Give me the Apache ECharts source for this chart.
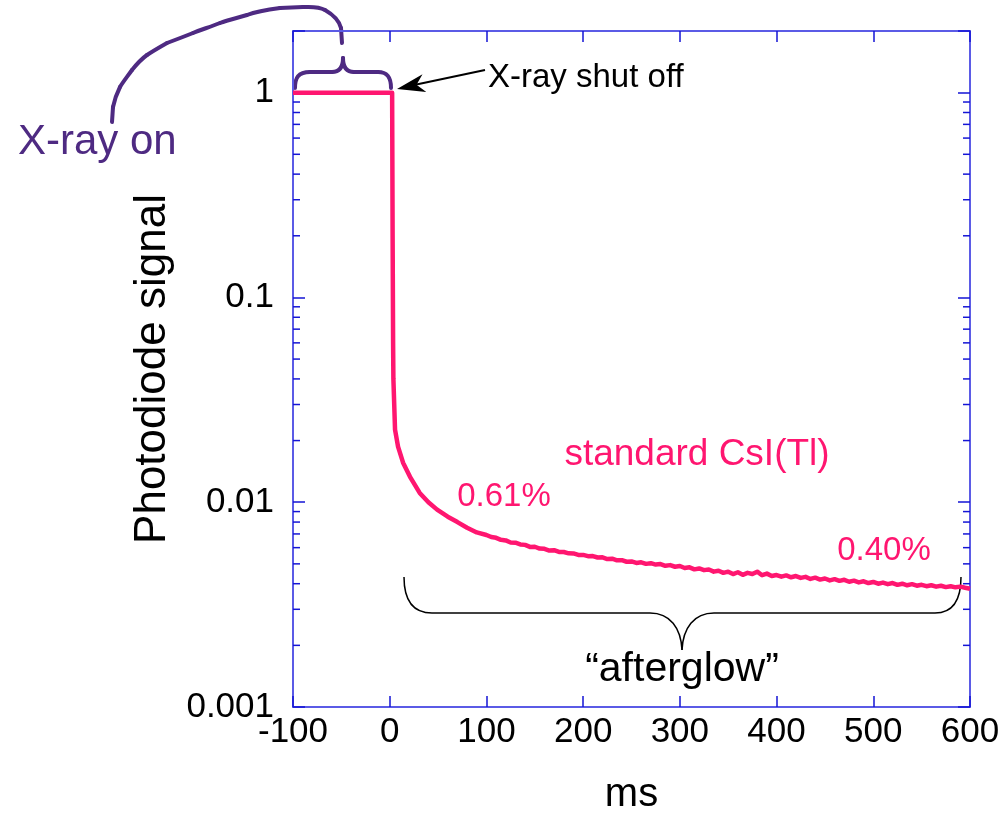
<!DOCTYPE html>
<html>
<head>
<meta charset="utf-8">
<script src="https://cdn.jsdelivr.net/npm/echarts@6/dist/echarts.min.js"></script>
<style>html,body{margin:0;padding:0;background:#fff}#c{width:1005px;height:820px}</style>
</head>
<body>
<div id="c"></div>
<script>
// ---- data ----
const timeMs = [-100, 2.5, 3.0, 3.5, 3.8, 5.5, 8.6, 13.8, 21, 31, 40, 49, 60, 70, 80, 90,
  100,105,110,115,120,125,130,135,140,145,150,155,160,165,170,175,180,185,190,195,
  200,205,210,215,220,225,230,235,240,245,250,255,260,265,270,275,280,285,290,295,
  300,305,310,315,320,325,330,335,340,345,350,355,360,365,370,375,380,385,390,395,
  400,405,410,415,420,425,430,435,440,445,450,455,460,465,470,475,480,485,490,495,
  500,505,510,515,520,525,530,535,540,545,550,555,560,565,570,575,580,585,590,595,600];
const signal = [1.0, 1.0, 0.2, 0.06, 0.04, 0.0226, 0.0187, 0.0156, 0.0133, 0.0111, 0.0100, 0.0092, 0.0085, 0.0080, 0.0075, 0.00712,
  0.00692,0.00676,0.00670,0.00655,0.00651,0.00636,0.00634,0.00622,0.00619,0.00605,0.00606,0.00594,0.00592,0.00581,0.00583,0.00572,0.00571,0.00563,0.00562,0.00553,
  0.00553,0.00545,0.00546,0.00537,0.00538,0.00528,0.00530,0.00520,0.00521,0.00512,0.00514,0.00505,0.00509,0.00500,0.00504,0.00496,0.00499,0.00489,0.00493,0.00484,
  0.00488,0.00477,0.00481,0.00470,0.00475,0.00466,0.00469,0.00458,0.00463,0.00452,0.00458,0.00446,0.00455,0.00442,0.00452,0.00446,0.00458,0.00440,0.00448,0.00436,
  0.00441,0.00433,0.00439,0.00430,0.00436,0.00427,0.00432,0.00422,0.00428,0.00419,0.00424,0.00415,0.00421,0.00413,0.00418,0.00409,0.00414,0.00406,0.00411,0.00403,
  0.00408,0.00400,0.00405,0.00398,0.00403,0.00395,0.00400,0.00393,0.00398,0.00391,0.00395,0.00389,0.00393,0.00387,0.00391,0.00385,0.00389,0.00384,0.00387,0.00382,0.00378];
const xTickLabels = ['-100','0','100','200','300','400','500','600'];
const yTickLabels = ['0.001','0.01','0.1','1'];
const minorTickValues = [0.002,0.003,0.004,0.005,0.006,0.007,0.008,0.009,
  0.02,0.03,0.04,0.05,0.06,0.07,0.08,0.09,
  0.2,0.3,0.4,0.5,0.6,0.7,0.8,0.9];
const X_MIN = -100, X_MAX = 600, Y_MIN = 0.001, Y_MAX = 2;

// ---- style ----
const FONT = "'Liberation Sans', Arial, sans-serif";
const PINK = '#ff1670';
const PURPLE = '#4e2a82';
const AXIS_LINE = '#5b5be6';
const TICK = '#1515d5';

// simple absolute M/L/C path -> graphic group of line / bezierCurve elements
function pathGroup(d, style) {
  const tok = d.match(/[MLC]|-?\d*\.?\d+/g);
  const children = [];
  let i = 0, cmd = null, cx = 0, cy = 0;
  while (i < tok.length) {
    if (/[MLC]/.test(tok[i])) { cmd = tok[i]; i++; }
    if (cmd === 'M') { cx = +tok[i]; cy = +tok[i + 1]; i += 2; cmd = 'L'; }
    else if (cmd === 'L') {
      const x = +tok[i], y = +tok[i + 1]; i += 2;
      children.push({type: 'line', shape: {x1: cx, y1: cy, x2: x, y2: y}, style: style});
      cx = x; cy = y;
    } else if (cmd === 'C') {
      const a = tok.slice(i, i + 6).map(Number); i += 6;
      children.push({type: 'bezierCurve', shape: {x1: cx, y1: cy, cpx1: a[0], cpy1: a[1], cpx2: a[2], cpy2: a[3], x2: a[4], y2: a[5]}, style: style});
      cx = a[4]; cy = a[5];
    } else { i++; }
  }
  return {type: 'group', silent: true, z: 10, children: children};
}

const chart = echarts.init(document.getElementById('c'), null, {renderer: 'canvas'});

function yLabel(v) {
  const s = yTickLabels.find(t => Math.abs(parseFloat(t) - v) / v < 1e-6);
  return s || '';
}

const xCommon = {
  type: 'value', min: X_MIN, max: X_MAX, interval: 100,
  axisLine: {show: true, onZero: false, lineStyle: {color: AXIS_LINE, width: 2}},
  axisTick: {show: true, inside: true, length: 11, lineStyle: {color: TICK, width: 1.5}},
  splitLine: {show: false}
};
const yCommon = {
  type: 'log', logBase: 10, min: Y_MIN, max: Y_MAX,
  axisLine: {show: true, onZero: false, lineStyle: {color: AXIS_LINE, width: 2}},
  axisTick: {show: true, inside: true, length: 12, lineStyle: {color: TICK, width: 1.5}},
  splitLine: {show: false}
};

const purpleStroke = {fill: null, stroke: PURPLE, lineWidth: 4, lineCap: 'round'};
const blackThin = {fill: null, stroke: '#000', lineWidth: 1.5};

const option = {
  animation: false,
  backgroundColor: '#fff',
  textStyle: {fontFamily: FONT},
  grid: {left: 293, right: 35, top: 31, bottom: 112, containLabel: false},
  xAxis: [
    Object.assign({}, xCommon, {
      position: 'bottom',
      axisLabel: {show: true, color: '#000', fontSize: 35, fontFamily: FONT, margin: 8,
        formatter: v => xTickLabels.includes(String(v)) ? String(v) : ''},
      name: 'ms', nameLocation: 'middle', nameGap: 68,
      nameTextStyle: {color: '#000', fontSize: 40, fontFamily: FONT}
    }),
    Object.assign({}, xCommon, {position: 'top', axisLabel: {show: false}})
  ],
  yAxis: [
    Object.assign({}, yCommon, {
      position: 'left',
      axisLabel: {show: true, color: '#000', fontSize: 35, fontFamily: FONT, margin: 19, formatter: yLabel},
      name: 'Photodiode signal', nameLocation: 'middle', nameGap: 118,
      nameTextStyle: {color: '#000', fontSize: 44, fontFamily: FONT}
    }),
    Object.assign({}, yCommon, {position: 'right', axisLabel: {show: false}})
  ],
  series: [
    {
      type: 'custom',
      xAxisIndex: 0, yAxisIndex: 0,
      data: minorTickValues.map(v => [X_MIN, v]),
      encode: {x: 0, y: 1},
      silent: true,
      z: 1,
      renderItem: function (params, api) {
        const v = api.value(1);
        const pL = api.coord([X_MIN, v]);
        const pR = api.coord([X_MAX, v]);
        return {
          type: 'group',
          children: [
            {type: 'line', shape: {x1: pL[0], y1: pL[1], x2: pL[0] + 7, y2: pL[1]}, style: {stroke: TICK, lineWidth: 1.5}},
            {type: 'line', shape: {x1: pR[0], y1: pR[1], x2: pR[0] - 7, y2: pR[1]}, style: {stroke: TICK, lineWidth: 1.5}}
          ]
        };
      }
    },
    {
      name: 'standard CsI(Tl)',
      type: 'line',
      xAxisIndex: 0, yAxisIndex: 0,
      data: timeMs.map((t, i) => [t, signal[i]]),
      showSymbol: false, symbol: 'none',
      lineStyle: {color: PINK, width: 4.5, join: 'round'},
      z: 3
    }
  ],
  graphic: [
    pathGroup('M295,88 C295,78 298,72 310,72 L332,72 C340,72 343,66 343,58 C343,66 346,72 354,72 L378,72 C388,72 391,78 391,88', purpleStroke),
    pathGroup('M342,43 L341,28 C339,20 332,14 325,10 C318,6 310,7 303,7 L280,8 C265,10 255,12 247,15 C237,18 228,20 220,23 C210,27 200,30 193,33 C183,37 175,40 167,43 C160,47 153,51 147,55 C140,60 136,65 132,70 C127,77 123,82 120,87 C116,95 114,102 113,107 L112,122', purpleStroke),
    {type: 'text', silent: true, z: 10, x: 18, y: 142,
      style: {text: 'X-ray on', fill: PURPLE, fontSize: 42, fontFamily: FONT, align: 'left', verticalAlign: 'middle'}},
    pathGroup('M485,70 L414,85', {fill: null, stroke: '#000', lineWidth: 2}),
    {type: 'polygon', silent: true, z: 10,
      shape: {points: [[397, 89], [422.5, 74.3], [416.5, 84.8], [426.3, 91.9]]},
      style: {fill: '#000'}},
    {type: 'text', silent: true, z: 10, x: 488, y: 78,
      style: {text: 'X-ray shut off', fill: '#000', fontSize: 33, fontFamily: FONT, align: 'left', verticalAlign: 'middle'}},
    {type: 'text', silent: true, z: 10, x: 697, y: 455,
      style: {text: 'standard CsI(Tl)', fill: PINK, fontSize: 37, fontFamily: FONT, align: 'center', verticalAlign: 'middle'}},
    {type: 'text', silent: true, z: 10, x: 504, y: 497,
      style: {text: '0.61%', fill: PINK, fontSize: 33, fontFamily: FONT, align: 'center', verticalAlign: 'middle'}},
    {type: 'text', silent: true, z: 10, x: 884, y: 551,
      style: {text: '0.40%', fill: PINK, fontSize: 33, fontFamily: FONT, align: 'center', verticalAlign: 'middle'}},
    pathGroup('M404,577 C404,600 412,613 432,613 L650,613 C670,613 681,628 682,650 C683,628 694,613 714,613 L935,613 C953,613 961,600 961,577', blackThin),
    {type: 'text', silent: true, z: 10, x: 682, y: 670,
      style: {text: '\u201cafterglow\u201d', fill: '#000', fontSize: 41, fontFamily: FONT, align: 'center', verticalAlign: 'middle'}}
  ]
};
chart.setOption(option);
</script>
</body>
</html>
